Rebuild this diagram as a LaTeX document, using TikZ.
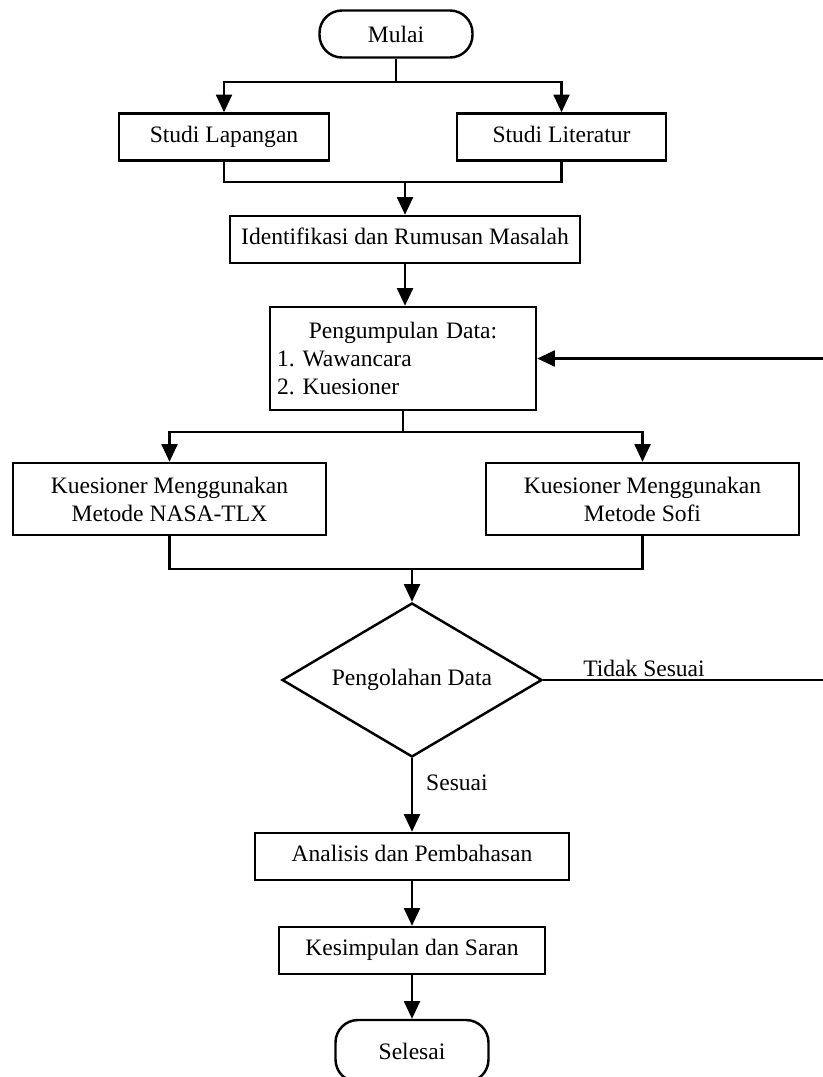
\documentclass[tikz,border=0pt]{standalone}
\usepackage{fontspec}
\setmainfont{Liberation Serif}
\usetikzlibrary{arrows.meta,shapes.geometric}
\tikzset{
	box/.style={draw, line width=1.4pt, minimum height=0.94cm, inner sep=0.1cm},
	onebox/.style={box, text height=1.65ex, text depth=0.35ex},
	term/.style={draw, line width=1.4pt, rounded corners=0.45cm, minimum width=3.06cm},
	decide/.style={draw, diamond, aspect=1.69, line width=1.4pt, inner sep=0pt, minimum width=5.2cm, minimum height=3.08cm},
	arr/.style={line width=1.4pt, -{Triangle[length=10pt,width=9pt]}},
	line/.style={line width=1.4pt}
}

\begin{document}
\begin{tikzpicture}[font=\fontsize{13.4}{15.9}\selectfont\frenchspacing]
			%%%%% START %%%%%
			
			\useasboundingbox (0, 0) rectangle (16.46, -21.54);
			\clip (0, 0) rectangle (16.46, -21.54);
			
			\node[term, minimum height=0.94cm] (mulai) at (7.92, -0.68) {Mulai};
			\node[onebox, minimum width=4.2cm] (lapangan) at (4.48, -2.74) {Studi Lapangan};
			\node[onebox, minimum width=4.18cm] (literatur) at (11.23, -2.74) {Studi Literatur};
			\node[onebox, minimum width=7.0cm] (rumusan) at (8.10, -4.79) {Identifikasi dan Rumusan Masalah};
			\node[box, minimum height=2.06cm, text width=5.04cm, inner xsep=0.14cm, align=left] (kumpul) at (8.06, -7.17)
				{\hfill Pengumpulan Data:\hfill\null\\ 1. Wawancara\\ 2. Kuesioner};
			\node[box, minimum width=6.26cm, minimum height=1.44cm, align=center] (nasa) at (3.39, -9.98) {Kuesioner Menggunakan\\ Metode NASA-TLX};
			\node[box, minimum width=6.26cm, minimum height=1.44cm, align=center] (sofi) at (12.85, -9.98) {Kuesioner Menggunakan\\ Metode Sofi};
			\node[decide] (olah) at (8.24, -13.6) {Pengolahan Data};
			\node[onebox, minimum width=6.28cm] (analisis) at (8.24, -17.13) {Analisis dan Pembahasan};
			\node[onebox, minimum width=5.32cm] (simpulan) at (8.24, -19.01) {Kesimpulan dan Saran};
			\node[term, minimum height=1.24cm] (selesai) at (8.24, -21.02) {Selesai};
			
			\node[anchor=west] (sesuai) at (8.40, -15.66) {Sesuai};
			\node (tidak) at (12.88, -13.36) {Tidak Sesuai};
			
			\coordinate (pisah1) at (7.92, -1.64);
			\coordinate (gabung1) at (8.10, -3.64);
			\coordinate (pisah2) at (8.06, -8.64);
			\coordinate (gabung2) at (8.24, -11.38);
			\coordinate (balik) at (16.8, -13.6);
			
			% cabang atas
			\draw[line] (mulai.south) -- (pisah1);
			\draw[arr] (pisah1) -| (lapangan.north);
			\draw[arr] (pisah1) -| (literatur.north);
			\draw[line] (lapangan.south) |- (gabung1) -| (literatur.south);
			\draw[arr] (gabung1) -- (rumusan.north);
			\draw[arr] (rumusan.south) -- (rumusan.south |- kumpul.north);
			
			% cabang kuesioner
			\draw[line] (kumpul.south) -- (pisah2);
			\draw[arr] (pisah2) -| (nasa.north);
			\draw[arr] (pisah2) -| (sofi.north);
			\draw[line] (nasa.south) |- (gabung2) -| (sofi.south);
			\draw[arr] (gabung2) -- (olah.north);
			
			% keputusan
			\draw[arr] (olah.east) -- (balik) |- (kumpul.east);
			\draw[arr] (olah.south) -- (analisis.north);
			\draw[arr] (analisis.south) -- (simpulan.north);
			\draw[arr] (simpulan.south) -- (selesai.north);
			
			%%%%% END %%%%%
\end{tikzpicture}
\end{document}
